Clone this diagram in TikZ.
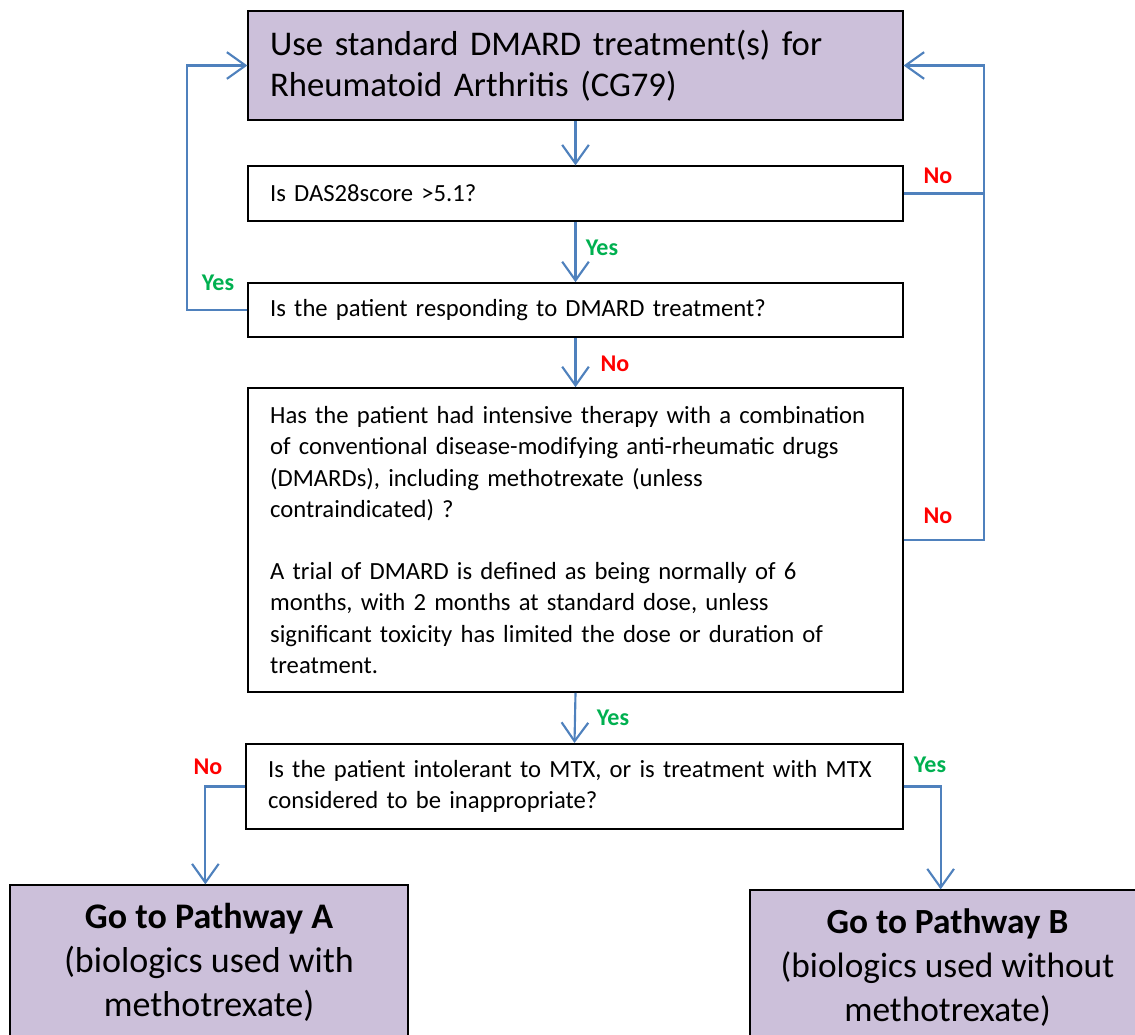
\documentclass[tikz,border=0pt]{standalone}
\usepackage{fontspec}
\setmainfont{Carlito}
\usetikzlibrary{arrows.meta}
\usetikzlibrary{positioning}
\definecolor{lilac}{RGB}{204,192,218}
\definecolor{flowblue}{RGB}{79,129,189}
\definecolor{yesgreen}{RGB}{0,176,80}
\definecolor{nored}{RGB}{255,0,0}
\tikzset{
    question/.style={
           rectangle,
           draw=black, line width=1.2pt,
           fill=white,
           text width=458pt,
           inner xsep=16.5pt,
           align=left,
           font=\fontsize{18.5}{23.5}\selectfont,
           },
}
\tikzset{
    action/.style={
           rectangle,
           draw=black, line width=1.2pt,
           fill=lilac,
           },
}
\tikzset{
    link/.style={
           draw=flowblue, line width=1.6pt,
           -{Straight Barb[length=14pt,width=20pt]},
           },
    yes/.style={text=yesgreen, font=\bfseries\fontsize{18}{20}\selectfont},
    no/.style={text=nored, font=\bfseries\fontsize{18}{20}\selectfont},
}

\begin{document}
\begin{tikzpicture}[x=0.75pt,y=-0.75pt]
\path[use as bounding box,clip] (0,0) rectangle (1135,1035);
% boxes
\node[action,text width=458pt,inner xsep=16.5pt,minimum height=82pt,align=left,
      font=\fontsize{26}{31}\selectfont](use) at (575.5,65.5)
      {Use standard DMARD treatment(s) for\\Rheumatoid Arthritis (CG79)};
\node[question,minimum height=41pt](das) at (575.5,193.5){Is DAS28score >5.1?};
\node[question,minimum height=40.5pt](resp) at (575.5,310){Is the patient responding to DMARD treatment?};
\node[question,minimum height=228pt](combo) at (575.5,540){Has the patient had intensive therapy with a combination\\
of conventional disease-modifying anti-rheumatic drugs\\
(DMARDs), including methotrexate (unless\\
contraindicated) ?\\[23pt]
A trial of DMARD is defined as being normally of 6\\
months, with 2 months at standard dose, unless\\
significant toxicity has limited the dose or duration of\\
treatment.};
\node[question,text width=459.5pt,minimum height=64pt](mtx) at (574.5,786.5){Is the patient intolerant to MTX, or is treatment with MTX\\
considered to be inappropriate?};
\node[action,minimum width=298.5pt,minimum height=116pt,align=center,
      font=\fontsize{27}{33}\selectfont](pathA) at (209,962.5)
      {\textbf{Go to Pathway A}\\(biologics used with\\methotrexate)};
\node[action,minimum width=296pt,minimum height=116pt,align=center,
      font=\fontsize{26.5}{33}\selectfont](pathB) at (947.5,967.5)
      {\textbf{Go to Pathway B}\\(biologics used without\\methotrexate)};
% labels
\node[no](no1) at (938,176){No};
\node[yes](yes1) at (602,248){Yes};
\node[yes](yes2) at (218,283){Yes};
\node[no](no2) at (615,364){No};
\node[no](no3) at (938,516){No};
\node[yes](yes3) at (613,718){Yes};
\node[no](no4) at (208,767){No};
\node[yes](yes4) at (930,765){Yes};
% connectors
\coordinate (rjoin) at (984,193.5);
\draw[link] (use.south) -- (das.north);
\draw[link] (das.east) -- (rjoin) |- (use.east);
\draw[link,-] (combo.east) -| (rjoin);
\draw[link] (das.south) -- (resp.north);
\draw[link] (resp.west) -- ++(-60,0) |- (use.west);
\draw[link] (resp.south) -- (combo.north);
\draw[link] (combo.south) -- (mtx.north);
\draw[link] (mtx.west) -- ++(-40,0) coordinate (lturn) -- (lturn |- pathA.north);
\draw[link] (mtx.east) -- ++(37,0) coordinate (rturn) -- (rturn |- pathB.north);
\end{tikzpicture}
\end{document}
